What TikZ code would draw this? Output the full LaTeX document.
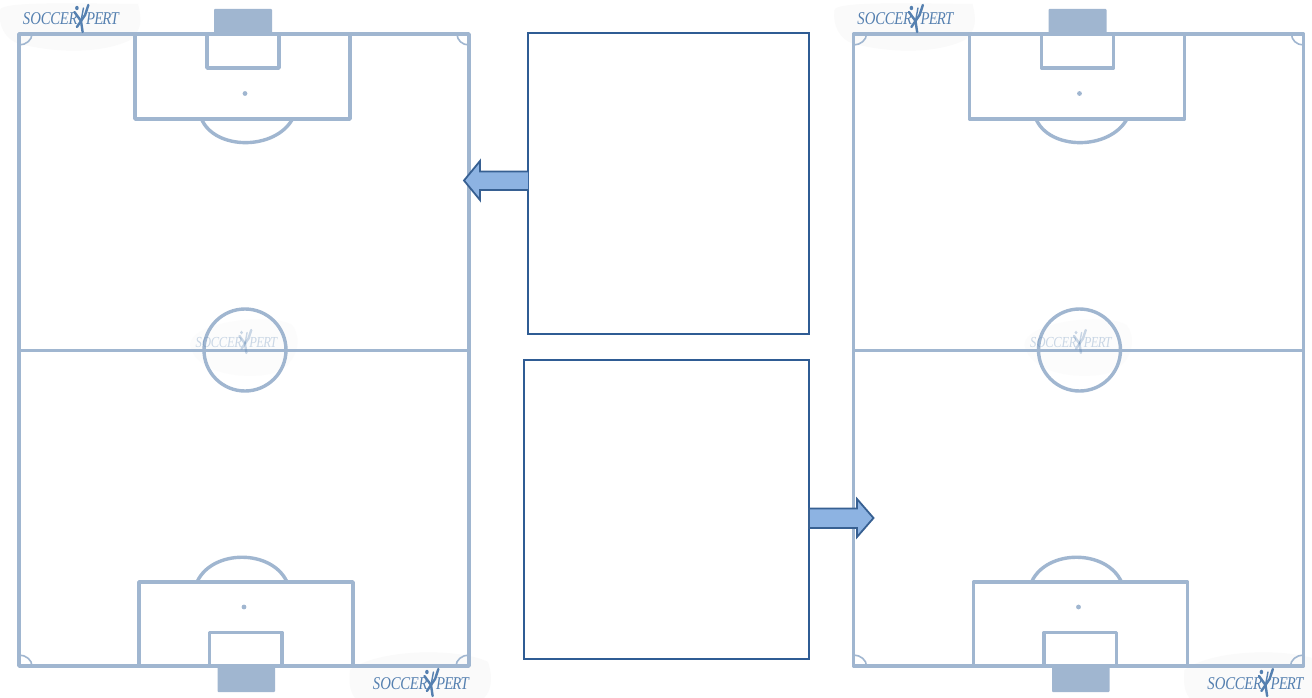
\documentclass[tikz,border=0pt]{standalone}
\usepackage{fontspec}
\setmainfont{Liberation Serif}
\definecolor{pitchline}{HTML}{A0B6D0}
\definecolor{goalfill}{HTML}{A0B6D0}
\definecolor{logoblue}{HTML}{5580B0}
\definecolor{blob}{HTML}{FAFAFA}
\definecolor{blobfaint}{HTML}{FCFCFC}
\definecolor{boxline}{HTML}{2F5C94}
\definecolor{arrowfill}{HTML}{8DB3E2}
\definecolor{arrowline}{HTML}{376092}
\tikzset{
  x=1pt,y=-1pt,
  pline/.style={draw=pitchline,line width=3.4pt,line join=round},
  midline/.style={draw=pitchline,line width=3pt},
  thin line/.style={draw=pitchline,line width=1.6pt},
  goalbox/.style={fill=goalfill,rounded corners=0.8pt},
  spot/.style={fill=pitchline},
  panel/.style={draw=boxline,line width=1.3pt,fill=white},
  blockarrow/.style={draw=arrowline,line width=1.8pt,fill=arrowfill,line join=miter},
  blobshape/.style={fill=blob},
  blobcentre/.style={fill=blobfaint},
  logotext/.style={text=logoblue,font=\itshape\fontsize{18}{18}\selectfont,inner sep=0pt,anchor=base}
}
% logo: #1 x of the figure axis, #2 baseline y, #3 opacity, #4 scale
\newcommand{\soccerlogo}[4]{%
  \begin{scope}[shift={(#1,#2)},xscale=.82*#4,yscale=#4,opacity=#3,transform shape]
    \node[logotext,anchor=base east] (logoa) at (-4,0) {S\kern.2pt O\kern-.4pt C\kern-.4pt C\kern-.4pt E\kern-.4pt R};
    \node[logotext,anchor=base west] (logob) at (6,0) {P\kern-1pt E\kern-1pt R\kern-1pt T};
    \fill[logoblue] (-5,-17) circle (2.2);
    \draw[logoblue,line width=2.4pt,line cap=round] (-8,-13) -- (0,-4) -- (2,7);
    \draw[logoblue,line width=2.4pt,line cap=round] (9,-20) -- (5,-10) -- (-5,2);
    \draw[logoblue,line width=1.4pt,line cap=round] (0,-4) -- (3,-17);
  \end{scope}}
\newcommand{\pitch}[1]{%
  \begin{scope}[shift={(#1,0)}]
    \fill[blobshape] (0,10) .. controls (2,2) and (60,3) .. (138,4) .. controls (142,20) and (142,30) .. (130,40) .. controls (110,50) and (70,56) .. (20,44) .. controls (5,40) and (-2,25) .. (0,10) -- cycle;
    \fill[blobcentre] (190,345) .. controls (190,322) and (270,312) .. (292,325) .. controls (304,340) and (296,368) .. (270,374) .. controls (240,380) and (195,372) .. (190,345) -- cycle;
    \fill[blobshape] (350,670) .. controls (380,648) and (460,648) .. (488,662) .. controls (494,680) and (490,692) .. (484,698) -- (355,698) .. controls (349,690) and (349,680) .. (350,670) -- cycle;
    \draw[pline] (19,34) rectangle (469,666);
    \draw[midline] (19,350) -- (469,350);
    \draw[pline] (245,350) circle (41);
    % top end
    \draw[pline] (135,34) -- (135,119) -- (350,119) -- (350,34);
    \draw[pline] (207,34) -- (207,68) -- (279,68) -- (279,34);
    \fill[goalbox] (214,9) rectangle (272,34);
    \fill[spot] (245,93.5) circle (2.4);
    \draw[pline] (201.5,119) .. controls (215,150.5) and (275,150.5) .. (292.5,119);
    % bottom end
    \draw[pline] (139,666) -- (139,582) -- (353,582) -- (353,666);
    \draw[pline] (209.5,666) -- (209.5,632.5) -- (282,632.5) -- (282,666);
    \fill[goalbox] (217.5,666) rectangle (275,692);
    \fill[spot] (244,607) circle (2.4);
    \draw[pline] (197,582) .. controls (212,549) and (272,549) .. (287,582);
    % corner arcs
    \draw[thin line] (32,34) .. controls (32,40) and (26,45) .. (19,45);
    \draw[thin line] (457,34) .. controls (457,40) and (462,45) .. (469,45);
    \draw[thin line] (19,655) .. controls (26,655) and (32,660) .. (32,666);
    \draw[thin line] (456,666) .. controls (456,660) and (462,655) .. (469,655);
    % logos
    \soccerlogo{81}{25}{1}{1}
    \soccerlogo{431}{689}{1}{1}
    \soccerlogo{245}{347}{.3}{.85}
  \end{scope}}
\begin{document}
\begin{tikzpicture}
\useasboundingbox (0,0) rectangle (1312,698);
\fill[white] (0,0) rectangle (1312,698);
\pitch{0}
\pitch{834.5}
\path[panel] (528,33) rectangle (809,334);
\path[panel] (524,360) rectangle (809,659);
\path[blockarrow] (528,171.5) -- (480,171.5) -- (480,161) -- (464,180.5) -- (480,200) -- (480,190) -- (528,190);
\path[blockarrow] (809,508.5) -- (857,508.5) -- (857,499) -- (873.5,518) -- (857,537) -- (857,528) -- (809,528) -- cycle;
\end{tikzpicture}
\end{document}
